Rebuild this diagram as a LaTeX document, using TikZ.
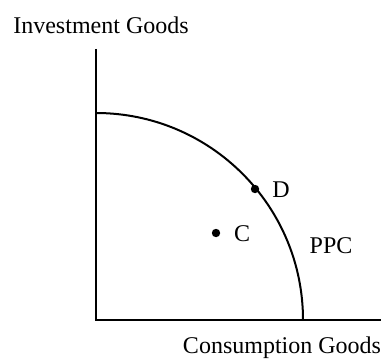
\documentclass[tikz,border=0pt]{standalone}
\usepackage{fontspec}
\setmainfont{Liberation Serif}
\begin{document}
\begin{tikzpicture}[x=0.5pt,y=-0.5pt,
  axis/.style={line width=1pt},
  curve/.style={line width=1pt},
  lbl/.style={anchor=base,inner sep=0pt,font=\fontsize{12}{14}\selectfont},
  dot/.style={circle,fill=black,inner sep=0pt,minimum size=4.2pt}]
\useasboundingbox (0,0) rectangle (383,358);
\coordinate (O) at (96,320);
\coordinate (ytop) at (96,49);
\coordinate (xend) at (381,320);
\draw[axis] (ytop) -- (O) -- (xend);
\draw[curve] (96,113) arc[start angle=90,end angle=0,radius=103.5pt];
\node[dot] (D) at (255,189) {};
\node[dot] (C) at (216,233) {};
\node[lbl] (Dl) at (281,197) {D};
\node[lbl] (Cl) at (242,241) {C};
\node[lbl] (ppc) at (331,253) {PPC};
\node[lbl] (ylab) at (101,34) {Investment Goods};
\node[lbl] (xlab) at (282,353) {Consumption Goods};
\end{tikzpicture}
\end{document}
